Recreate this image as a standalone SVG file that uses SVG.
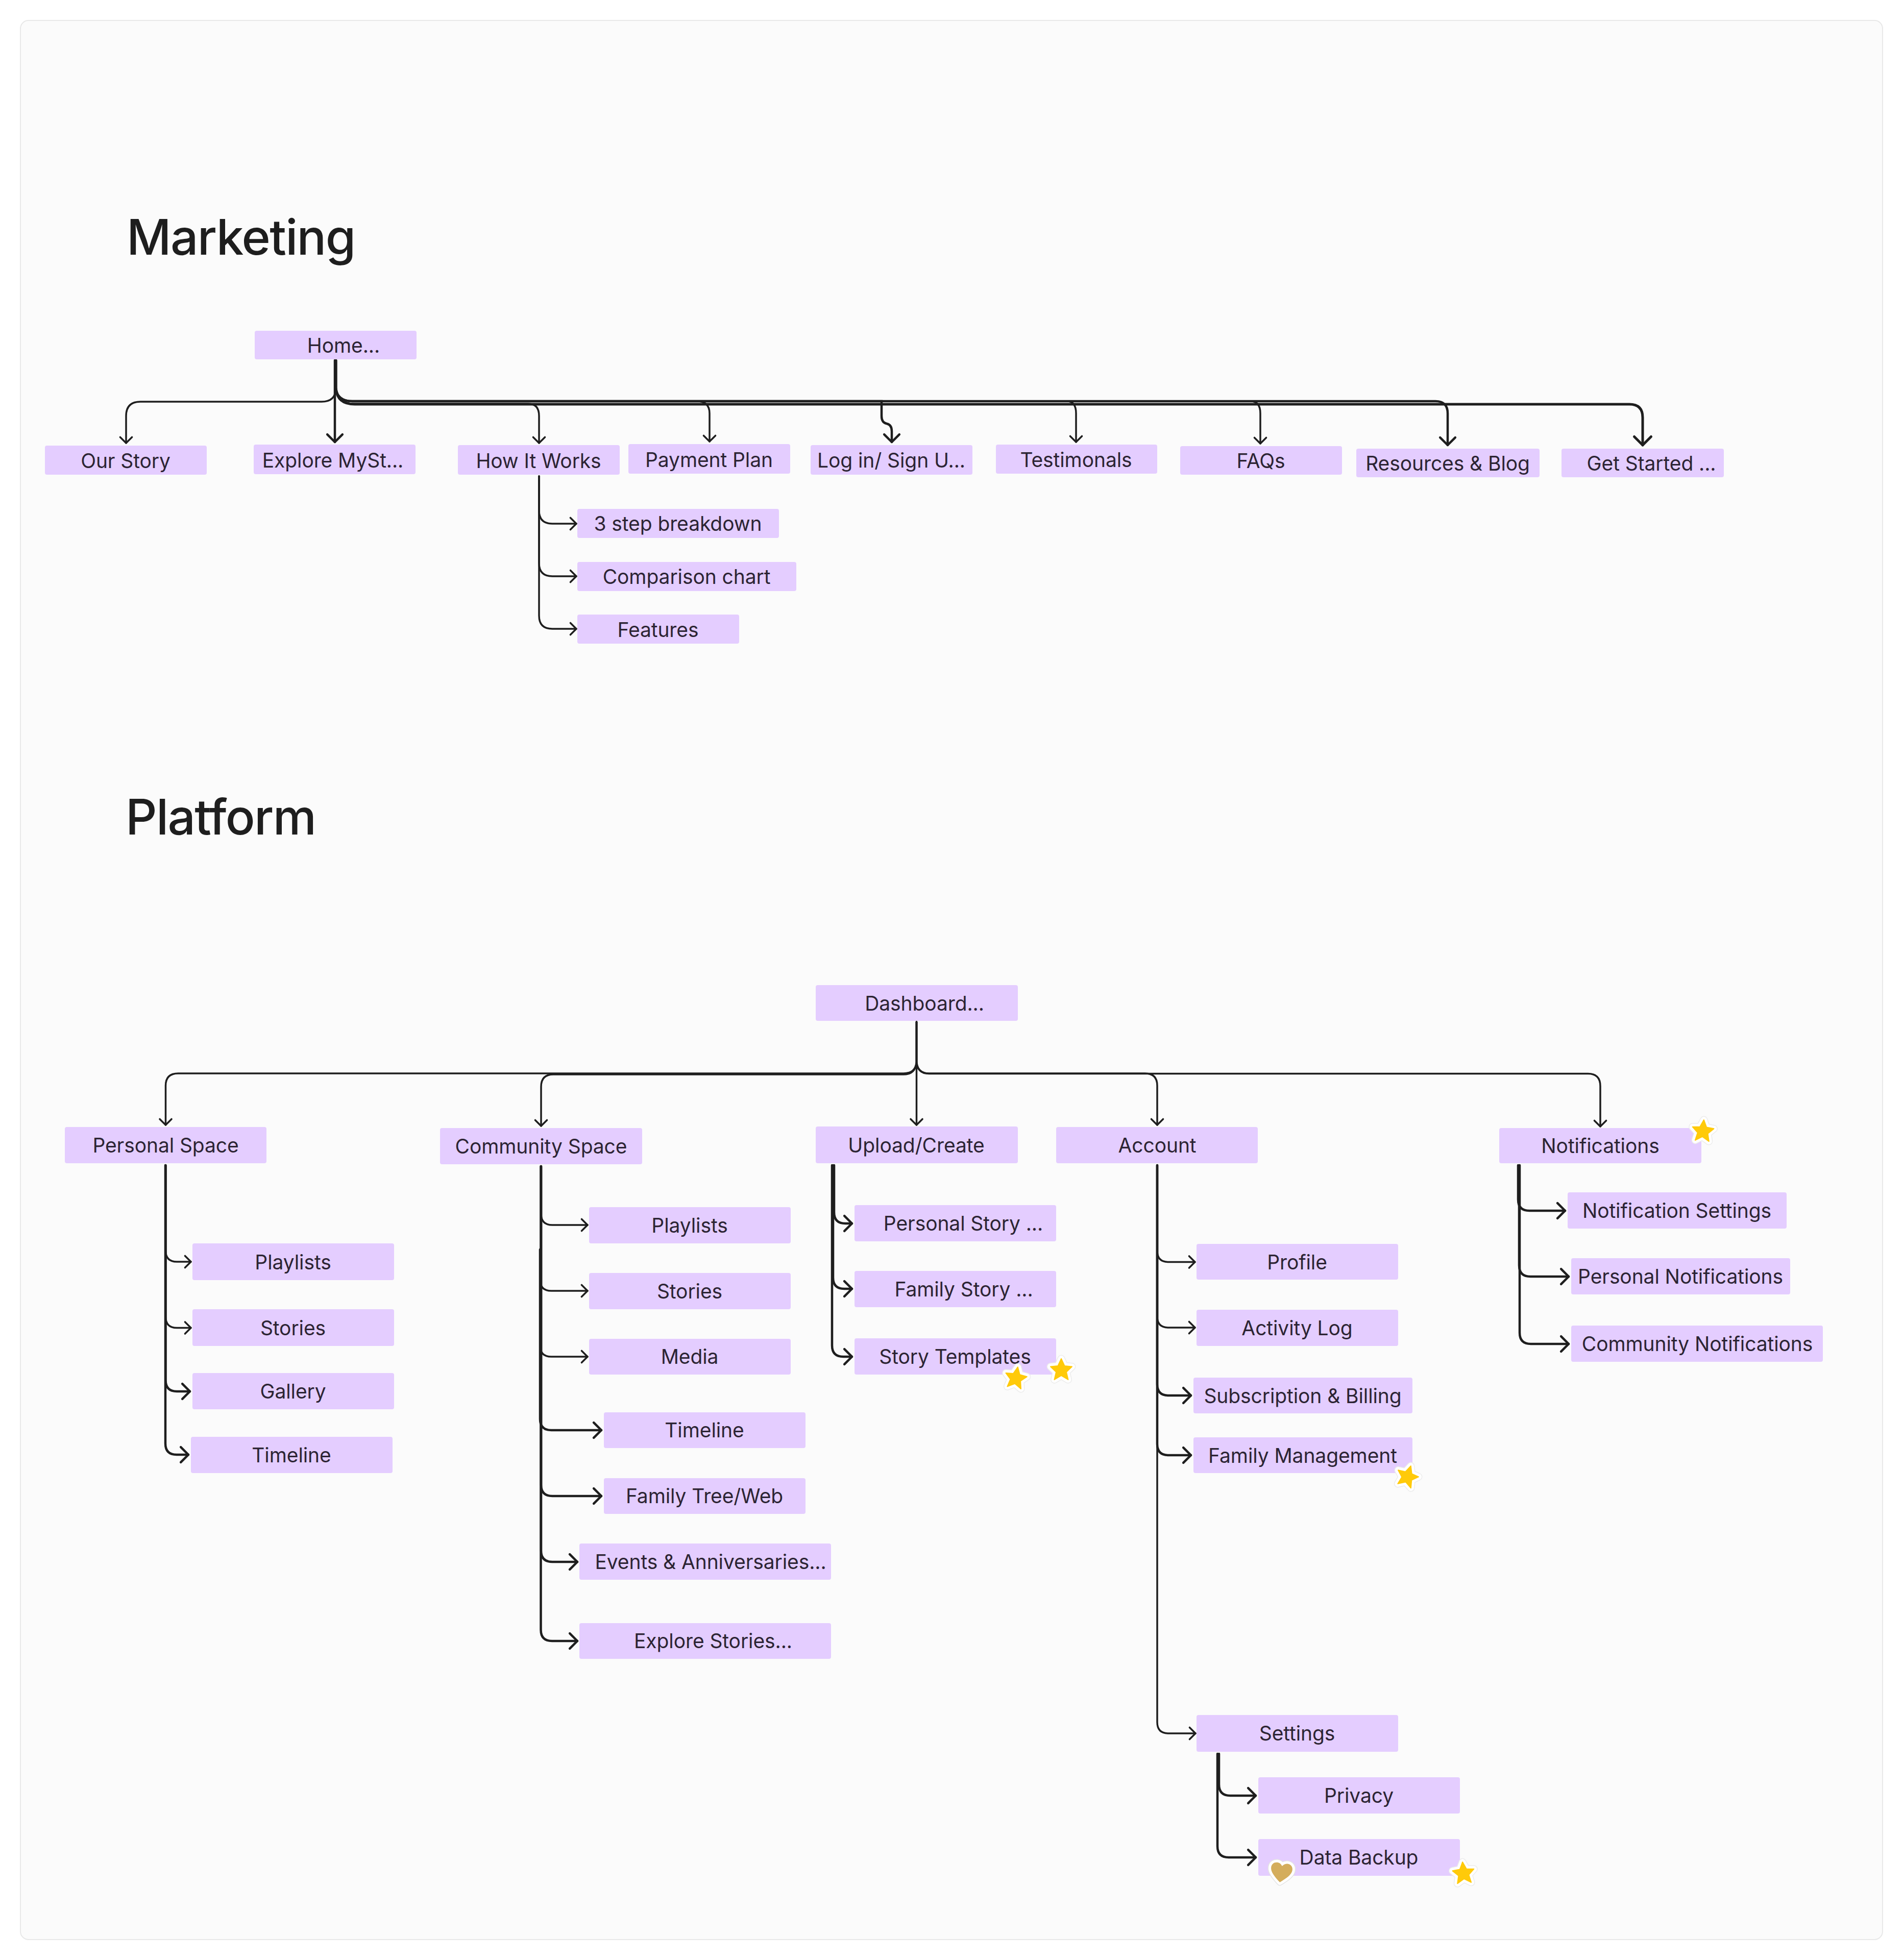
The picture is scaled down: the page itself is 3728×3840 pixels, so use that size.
<svg xmlns="http://www.w3.org/2000/svg" width="3728" height="3840" viewBox="0 0 3728 3840">
<style>
.b{fill:#e4cdff}
.t{font-family:Inter,"Liberation Sans",sans-serif;font-size:39px;letter-spacing:-.1px;fill:#2c2433;text-anchor:middle}
.h{font-family:Inter,"Liberation Sans",sans-serif;font-size:96px;font-weight:450;letter-spacing:-1.7px;fill:#1e1e1e}
.c path{fill:none;stroke:#1e1e1e;stroke-width:3.5;stroke-linecap:round;marker-end:url(#a)}
</style>
<defs>
<marker id="a" viewBox="-5 -5 6 10" refX="0" refY="0" markerWidth="6" markerHeight="10" orient="auto"><path d="M-3.3-3.3L0 0L-3.3 3.3" fill="none" stroke="#1e1e1e" stroke-width="1" stroke-linecap="round" stroke-linejoin="round" style="marker-end:none"/></marker>
<polygon id="sp" points="0,-22 6.5,-8 21,-6.5 10,4 13.5,19 0,11 -13.5,19 -10,4 -21,-6.5 -6.5,-8"/>
<g id="star"><use href="#sp" fill="#ececec" stroke="#ececec" stroke-width="15" stroke-linejoin="round"/><use href="#sp" fill="#fff" stroke="#fff" stroke-width="12" stroke-linejoin="round"/><use href="#sp" fill="#ffca0a" stroke="#ffca0a" stroke-width="2" stroke-linejoin="round"/></g>
<path id="hp" d="M0 20C-12 10-21 2-21-7C-21-14-16-18-10-18C-5-18-2-15 0-12C2-15 5-18 10-18C16-18 21-14 21-7C21 2 12 10 0 20Z"/>
</defs>
<rect x="40" y="40" width="3648" height="3760" rx="16" fill="#fbfbfb" stroke="#e8e8e8" stroke-width="2"/>
<text class="h" x="248" y="499">Marketing</text>
<text class="h" x="246" y="1635">Platform</text>

<g class="c" id="connectors">
<path d="M658 706V760Q658 787 630 787H275Q247 787 247 815V868"/>
<path d="M656 706V866" style="stroke-width:4.5"/>
<path d="M658 706V760Q660 791 690 791H1035Q1056 791 1056 815V868"/>
<path d="M658 706V760Q660 786 690 786H1365Q1390 786 1390 810V865"/>
<path d="M658 706V760Q660 786 690 786H1727V815Q1727 828 1737 830Q1747 832 1747 845V866" style="stroke-width:4.5"/>
<path d="M658 706V760Q660 786 690 786H2090Q2108 786 2108 810V866"/>
<path d="M658 706V760Q660 786 690 786H2450Q2469 786 2469 810V869"/>
<path d="M658 706V760Q660 786 690 786H2812Q2836 786 2836 810V872" style="stroke-width:4.5"/>
<path d="M658 706V760Q660 792 695 792H3192Q3218 792 3218 818V872" style="stroke-width:5"/>
<path d="M1056 933V1000Q1056 1026 1082 1026H1129"/>
<path d="M1056 933V1103Q1056 1129 1082 1129H1129"/>
<path d="M1056 933V1206Q1056 1232 1082 1232H1129"/>

<path d="M1795.5 2002V2078Q1795 2103 1770 2103H349Q324.500 2103 324.500 2127V2204"/>
<path d="M1795.5 2002V2078Q1795 2105 1770 2105H1084Q1060 2105 1060 2129V2206"/>
<path d="M1795.500 2002V2204"/>
<path d="M1795.500 2002V2078Q1796 2103 1820 2103H2243Q2267 2103 2267 2127V2204"/>
<path d="M1795.500 2002V2078Q1796 2103.500 1820 2103.500H3111Q3135 2103.500 3135 2128V2207"/>

<path d="M324.500 2283V2450Q324.500 2472 346.500 2472H374"/>
<path d="M324.500 2283V2579.500Q324.500 2601.500 346.500 2601.500H374"/>
<path d="M324.500 2283V2704Q324.500 2726 346.500 2726H372" style="stroke-width:4.500"/>
<path d="M324 2283V2828Q324 2850 346 2850H369" style="stroke-width:4.500"/>

<path d="M1060 2285V2378Q1060 2400 1082 2400H1151"/>
<path d="M1058 2448V2507Q1058 2529 1080 2529H1151"/>
<path d="M1058 2448V2636Q1058 2658 1080 2658H1151"/>
<path d="M1058 2448V2780Q1058 2802 1080 2802H1178" style="stroke-width:4.500"/>
<path d="M1060 2285V2909Q1060 2931 1082 2931H1178" style="stroke-width:4.500"/>
<path d="M1060 2285V3038Q1060 3060 1082 3060H1131" style="stroke-width:4.500"/>
<path d="M1059.500 2285V3193Q1059.500 3215 1081.500 3215H1131" style="stroke-width:4.500"/>

<path d="M1634 2283V2375Q1634 2397 1656 2397H1669" style="stroke-width:4.500"/>
<path d="M1632 2283V2503Q1632 2525 1654 2525H1669" style="stroke-width:4.500"/>
<path d="M1630 2283V2636Q1630 2658 1652 2658H1669" style="stroke-width:4.500"/>

<path d="M2267 2283V2450.500Q2267 2472.500 2289 2472.500H2341"/>
<path d="M2267 2283V2579Q2267 2601 2289 2601H2341"/>
<path d="M2267 2283V2712Q2267 2734 2289 2734H2333" style="stroke-width:4.500"/>
<path d="M2267 2283V2829Q2267 2851 2289 2851H2333" style="stroke-width:4.500"/>
<path d="M2267 2283V3374Q2267 3396 2289 3396H2342"/>

<path d="M2388 3436V3496Q2388 3518 2410 3518H2460" style="stroke-width:4.500"/>
<path d="M2385 3436V3617Q2385 3639 2407 3639H2460" style="stroke-width:4.500"/>

<path d="M2974 2283V2350Q2974 2372 2996 2372H3066" style="stroke-width:4.500"/>
<path d="M2976 2283V2479Q2976 2501 2998 2501H3073" style="stroke-width:4.500"/>
<path d="M2977 2283V2611Q2977 2633 2999 2633H3073" style="stroke-width:4.500"/>
</g>

<g id="home"><rect class="b" x="499" y="648" width="317" height="56" rx="4"/><text class="t" x="673" y="691">Home...</text></g>
<g id="our-story"><rect class="b" x="88" y="873" width="317" height="57" rx="4"/><text class="t" x="246" y="917">Our Story</text></g>
<g id="explore-myst"><rect class="b" x="497" y="871" width="317" height="58" rx="4"/><text class="t" x="652" y="916">Explore MySt...</text></g>
<g id="how-it-works"><rect class="b" x="897" y="872" width="317" height="58" rx="4"/><text class="t" x="1055" y="917">How It Works</text></g>
<g id="payment-plan"><rect class="b" x="1231" y="870" width="317" height="58" rx="4"/><text class="t" x="1389" y="915">Payment Plan</text></g>
<g id="login"><rect class="b" x="1588" y="872" width="317" height="58" rx="4"/><text class="t" x="1746" y="916">Log in/ Sign U...</text></g>
<g id="testimonials"><rect class="b" x="1951" y="871" width="316" height="57" rx="4"/><text class="t" x="2108" y="915">Testimonals</text></g>
<g id="faqs"><rect class="b" x="2312" y="874" width="317" height="56" rx="4"/><text class="t" x="2470" y="917">FAQs</text></g>
<g id="resources"><rect class="b" x="2657" y="879" width="359" height="56" rx="4"/><text class="t" x="2836" y="922">Resources &amp; Blog</text></g>
<g id="get-started"><rect class="b" x="3059" y="879" width="318" height="56" rx="4"/><text class="t" x="3235" y="922">Get Started ...</text></g>
<g id="three-step"><rect class="b" x="1131" y="997" width="395" height="57" rx="4"/><text class="t" x="1328" y="1040">3 step breakdown</text></g>
<g id="comparison"><rect class="b" x="1131" y="1101" width="429" height="57" rx="4"/><text class="t" x="1345" y="1144">Comparison chart</text></g>
<g id="features"><rect class="b" x="1131" y="1204" width="317" height="57" rx="4"/><text class="t" x="1289" y="1248">Features</text></g>

<g id="dashboard"><rect class="b" x="1598" y="1930" width="396" height="70" rx="4"/><text class="t" x="1811" y="1980">Dashboard...</text></g>
<g id="personal-space"><rect class="b" x="127" y="2208" width="395" height="71" rx="4"/><text class="t" x="324.500" y="2258">Personal Space</text></g>
<g id="community-space"><rect class="b" x="862" y="2210" width="396" height="71" rx="4"/><text class="t" x="1060" y="2260">Community Space</text></g>
<g id="upload"><rect class="b" x="1598" y="2207" width="396" height="72" rx="4"/><text class="t" x="1795" y="2258">Upload/Create</text></g>
<g id="account"><rect class="b" x="2069" y="2208" width="395" height="71" rx="4"/><text class="t" x="2267" y="2258">Account</text></g>
<g id="notifications"><rect class="b" x="2937" y="2210" width="396" height="69" rx="4"/><text class="t" x="3135" y="2259">Notifications</text></g>

<g id="ps-playlists"><rect class="b" x="377" y="2436" width="395" height="72" rx="4"/><text class="t" x="574" y="2487">Playlists</text></g>
<g id="ps-stories"><rect class="b" x="377" y="2565" width="395" height="72" rx="4"/><text class="t" x="574" y="2616">Stories</text></g>
<g id="ps-gallery"><rect class="b" x="377" y="2690" width="395" height="71" rx="4"/><text class="t" x="574" y="2740">Gallery</text></g>
<g id="ps-timeline"><rect class="b" x="374" y="2815" width="395" height="71" rx="4"/><text class="t" x="571" y="2865">Timeline</text></g>

<g id="cs-playlists"><rect class="b" x="1154" y="2365" width="395" height="71" rx="4"/><text class="t" x="1351" y="2415">Playlists</text></g>
<g id="cs-stories"><rect class="b" x="1154" y="2494" width="395" height="71" rx="4"/><text class="t" x="1351" y="2544">Stories</text></g>
<g id="cs-media"><rect class="b" x="1154" y="2623" width="395" height="70" rx="4"/><text class="t" x="1351" y="2672">Media</text></g>
<g id="cs-timeline"><rect class="b" x="1183" y="2767" width="395" height="70" rx="4"/><text class="t" x="1380" y="2816">Timeline</text></g>
<g id="cs-tree"><rect class="b" x="1183" y="2896" width="395" height="70" rx="4"/><text class="t" x="1380" y="2945">Family Tree/Web</text></g>
<g id="cs-events"><rect class="b" x="1135" y="3024" width="493" height="71" rx="4"/><text class="t" x="1392" y="3074">Events &amp; Anniversaries...</text></g>
<g id="cs-explore"><rect class="b" x="1135" y="3180" width="493" height="70" rx="4"/><text class="t" x="1397" y="3229">Explore Stories...</text></g>

<g id="personal-story"><rect class="b" x="1674" y="2361" width="395" height="71" rx="4"/><text class="t" x="1887" y="2411">Personal Story ...</text></g>
<g id="family-story"><rect class="b" x="1674" y="2490" width="395" height="71" rx="4"/><text class="t" x="1888" y="2540">Family Story ...</text></g>
<g id="story-templates"><rect class="b" x="1674" y="2622" width="395" height="71" rx="4"/><text class="t" x="1871" y="2672">Story Templates</text></g>

<g id="profile"><rect class="b" x="2344" y="2437" width="395" height="70" rx="4"/><text class="t" x="2541" y="2487">Profile</text></g>
<g id="activity"><rect class="b" x="2344" y="2566" width="395" height="71" rx="4"/><text class="t" x="2541" y="2616">Activity Log</text></g>
<g id="subscription"><rect class="b" x="2338" y="2699" width="429" height="70" rx="4"/><text class="t" x="2552" y="2749">Subscription &amp; Billing</text></g>
<g id="family-mgmt"><rect class="b" x="2338" y="2816" width="429" height="70" rx="4"/><text class="t" x="2552" y="2866">Family Management</text></g>
<g id="settings"><rect class="b" x="2344" y="3360" width="395" height="72" rx="4"/><text class="t" x="2541" y="3410">Settings</text></g>
<g id="privacy"><rect class="b" x="2465" y="3482" width="395" height="71" rx="4"/><text class="t" x="2662" y="3532">Privacy</text></g>
<g id="data-backup"><rect class="b" x="2465" y="3603" width="395" height="72" rx="4"/><text class="t" x="2662" y="3653">Data Backup</text></g>

<g id="notif-settings"><rect class="b" x="3071" y="2336" width="429" height="71" rx="4"/><text class="t" x="3285" y="2386">Notification Settings</text></g>
<g id="notif-personal"><rect class="b" x="3078" y="2465" width="429" height="71" rx="4"/><text class="t" x="3292" y="2515">Personal Notifications</text></g>
<g id="notif-community"><rect class="b" x="3078" y="2597" width="493" height="71" rx="4"/><text class="t" x="3325" y="2647">Community Notifications</text></g>

<use href="#star" transform="translate(1990 2700) rotate(10)"/>
<use href="#star" transform="translate(2079 2684)"/>
<use href="#star" transform="translate(2757 2893) rotate(18)"/>
<use href="#star" transform="translate(2867 3670) rotate(-5)"/>
<use href="#star" transform="translate(3336 2216) rotate(5)"/>
<g id="heart" transform="translate(2510 3668) rotate(8)"><use href="#hp" fill="#fff" stroke="#e4e4e4" stroke-width="13" stroke-linejoin="round"/><use href="#hp" fill="#fff" stroke="#fff" stroke-width="10" stroke-linejoin="round"/><use href="#hp" fill="#d4ad5c"/></g>
</svg>
